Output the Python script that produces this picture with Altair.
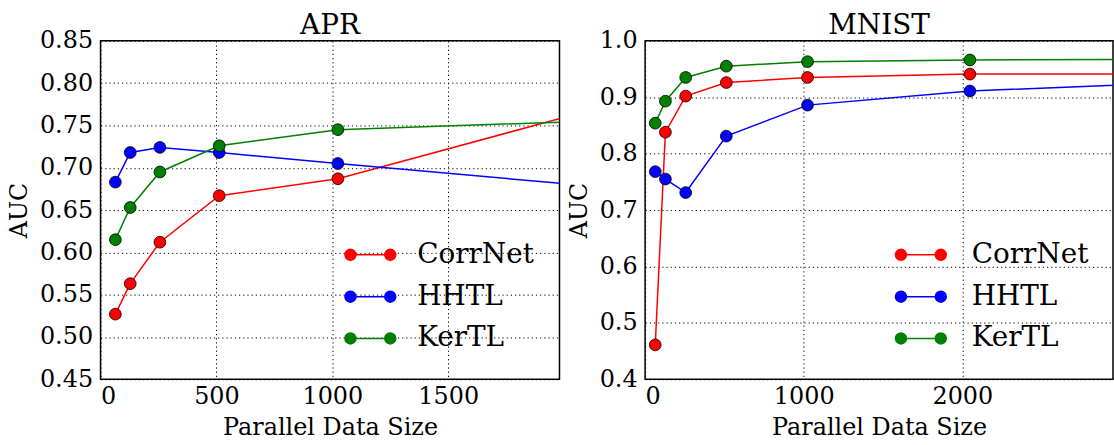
import altair as alt
import pandas as pd

methods = ["CorrNet", "HHTL", "KerTL"]
colors = ["#ff0000", "#0000ff", "#008000"]

apr_x = [64, 128, 256, 512, 1024, 2048]
apr_corrnet = [0.527, 0.563, 0.612, 0.667, 0.687, 0.763]
apr_hhtl = [0.683, 0.718, 0.724, 0.718, 0.705, 0.680]
apr_kertl = [0.615, 0.653, 0.695, 0.726, 0.745, 0.7545]

mnist_x = [64, 128, 256, 512, 1024, 2048, 4096]
mnist_corrnet = [0.461, 0.838, 0.902, 0.926, 0.935, 0.941, 0.941]
mnist_hhtl = [0.768, 0.755, 0.731, 0.831, 0.886, 0.911, 0.934]
mnist_kertl = [0.854, 0.893, 0.935, 0.955, 0.963, 0.966, 0.968]

apr_xticks = [0, 500, 1000, 1500]
apr_yticks = [0.45, 0.50, 0.55, 0.60, 0.65, 0.70, 0.75, 0.80, 0.85]
mnist_xticks = [0, 1000, 2000]
mnist_yticks = [0.4, 0.5, 0.6, 0.7, 0.8, 0.9, 1.0]

FONT = "DejaVu Serif"
LEGEND_PATH = ("M-1.6,0L1.6,0"
               "M-1.16,0A0.44,0.44 0 1,1 -2.04,0A0.44,0.44 0 1,1 -1.16,0Z"
               "M2.04,0A0.44,0.44 0 1,1 1.16,0A0.44,0.44 0 1,1 2.04,0Z")


def frame(xs, series):
    rows = []
    for name, vals in zip(methods, series):
        for x, v in zip(xs, vals):
            rows.append({"size": x, "auc": v, "method": name})
    return pd.DataFrame(rows)


def panel(title, df, xdom, xticks, ydom, yticks, yfmt, width, lx, loff):
    color = alt.Color(
        "method:N",
        scale=alt.Scale(domain=methods, range=colors),
        legend=alt.Legend(
            title=None,
            orient="none",
            legendX=width - lx,
            legendY=201,
            symbolType=LEGEND_PATH,
            symbolSize=625,
            symbolStrokeWidth=1.5,
            labelFont=FONT,
            labelFontSize=28,
            labelColor="black",
            labelOffset=loff,
            rowPadding=14,
            symbolOpacity=1,
        ),
    )
    x = alt.X(
        "size:Q",
        scale=alt.Scale(domain=xdom, nice=False, zero=False),
        axis=alt.Axis(values=xticks, title="Parallel Data Size", format="d"),
    )
    y = alt.Y(
        "auc:Q",
        scale=alt.Scale(domain=ydom, nice=False, zero=False),
        axis=alt.Axis(values=yticks, title="AUC", format=yfmt),
    )
    line = alt.Chart(df).mark_line(clip=True, strokeWidth=1.5).encode(
        x=x, y=y, color=color
    )
    pts = alt.Chart(df).mark_point(
        clip=True, filled=True, size=140, stroke="black", strokeWidth=0.8,
        opacity=1, shape="circle"
    ).encode(x=x, y=y, fill=alt.Fill("method:N", scale=alt.Scale(domain=methods, range=colors), legend=None), color=color)
    return alt.layer(line, pts).properties(
        width=width, height=340,
        title=alt.Title(title, font=FONT, fontSize=28, fontWeight="normal", color="black",
                        offset=-11, frame="group"),
    )


apr = panel("APR", frame(apr_x, [apr_corrnet, apr_hhtl, apr_kertl]),
            [0, 1980], apr_xticks, [0.45, 0.85], apr_yticks, ".2f", 461, 204, 33)
mnist = panel("MNIST", frame(mnist_x, [mnist_corrnet, mnist_hhtl, mnist_kertl]),
              [0, 2950], mnist_xticks, [0.4, 1.0], mnist_yticks, ".1f", 470, 207, 37)

chart = alt.hconcat(apr, mnist, spacing=6).resolve_scale(
    color="independent", fill="independent"
).resolve_legend(color="independent", fill="independent").properties(
    padding={"left": 6, "top": 10, "right": 0, "bottom": 0}
).configure_view(
    stroke="black", strokeWidth=1.5
).configure_axis(
    labelFont=FONT, labelFontSize=24, labelColor="black",
    titleFont=FONT, titleFontSize=24, titleColor="black", titleFontWeight="normal",
    grid=True, gridColor="black", gridDash=[1.2, 3], gridWidth=1, gridOpacity=1,
    domain=False, ticks=False, labelPadding=8,
).configure_axisX(titlePadding=7, labelPadding=5).configure_axisY(titlePadding=8)

chart.save("out.html", embed_options={"renderer": "svg", "actions": False})
